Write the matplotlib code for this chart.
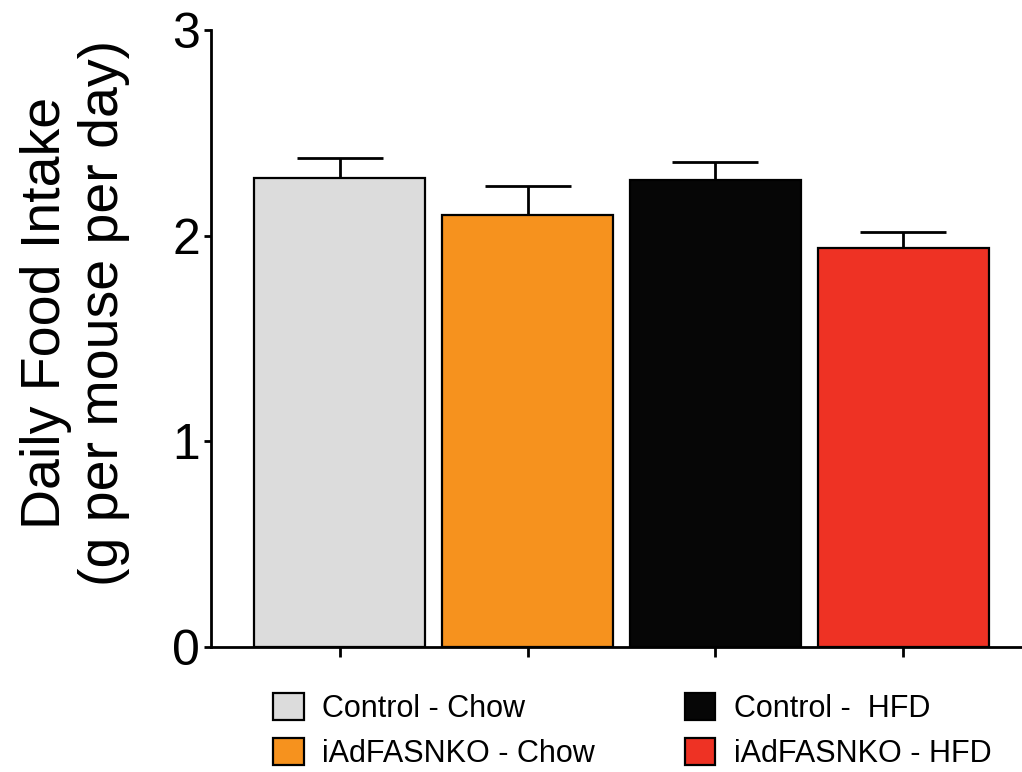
import matplotlib
matplotlib.use("Agg")
import matplotlib.pyplot as plt

plt.rcParams['font.family'] = ['Liberation Sans', 'DejaVu Sans']

categories = ["Control - Chow", "iAdFASNKO - Chow", "Control -  HFD", "iAdFASNKO - HFD"]
means = [2.28, 2.10, 2.27, 1.94]
sem = [0.10, 0.14, 0.09, 0.08]
colors = ["#DCDCDC", "#F6921E", "#060606", "#EE3224"]
yticks = [0, 1, 2, 3]

fig = plt.figure(figsize=(10.22, 7.72), dpi=100)
ax = fig.add_axes([211/1022, 125/772, 811/1022, 617/772])

x = list(range(len(categories)))
bars = ax.bar(x, means, width=0.91, color=colors, edgecolor="black", linewidth=1.6, zorder=2)
ax.errorbar(x, means, yerr=[[0]*len(sem), sem], fmt="none", ecolor="black",
            elinewidth=2.0, capsize=31, capthick=2.0, zorder=1)

ax.set_xlim(-0.686, 3.633)
ax.set_ylim(0, 3)
ax.set_yticks(yticks)
ax.set_yticklabels([str(t) for t in yticks])
ax.set_xticks(x)
ax.set_xticklabels([])
ax.spines['top'].set_visible(False)
ax.spines['right'].set_visible(False)
ax.spines['left'].set_linewidth(2.0)
ax.spines['bottom'].set_linewidth(2.0)
ax.spines['left'].set_zorder(3)
ax.spines['bottom'].set_zorder(3)
ax.tick_params(axis='y', direction='out', length=5, width=2.0, labelsize=36, pad=3)
ax.tick_params(axis='x', direction='out', length=7, width=2.0)

fig.text(75/1022, (772-313)/772, "Daily Food Intake\n(g per mouse per day)",
         rotation=90, ha='center', va='center', multialignment='center', fontsize=40,
         linespacing=1.15)

fig.legend(handles=list(bars), labels=categories, ncol=2, frameon=False, fontsize=22,
           loc='upper left', bbox_to_anchor=(273/1022, (772-693)/772),
           borderpad=0, borderaxespad=0, handlelength=1.0, handleheight=1.0,
           handletextpad=0.6, columnspacing=2.95, labelspacing=0.45)

fig.savefig("out.png", dpi=100)
